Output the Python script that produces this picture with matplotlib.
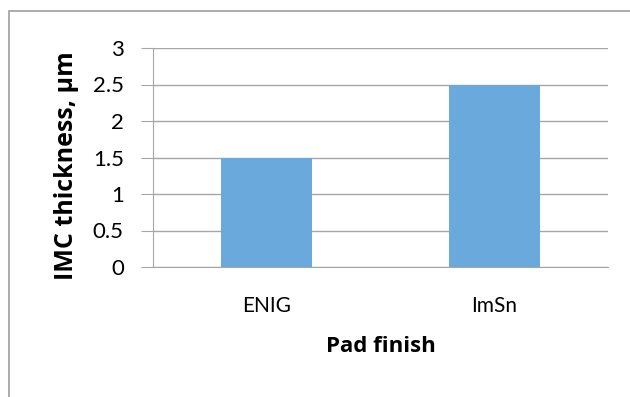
import matplotlib.pyplot as plt
import matplotlib.patches as mpatches

# Data
categories = ["ENIG", "ImSn"]
imc_thickness = [1.5, 2.5]
y_ticks = [0, 0.5, 1, 1.5, 2, 2.5, 3]
y_tick_labels = ["0", "0.5", "1", "1.5", "2", "2.5", "3"]

plt.rcParams['font.family'] = ['Lato', 'DejaVu Sans']

W, H = 630, 397
fig = plt.figure(figsize=(W / 100, H / 100), dpi=100)

# chart area border (cut off at right/bottom like the reference)
fig.patches.append(mpatches.Rectangle((9 / W, -0.1), 1.2, 1.1 - 11 / H, transform=fig.transFigure,
                                      fill=False, edgecolor="#a6a6a6", linewidth=1.3))

# plot area in pixel terms: x 153..608, y 48..267
ax = fig.add_axes([153 / W, 1 - 267 / H, (608 - 153) / W, (267 - 48) / H])

x = range(len(categories))
ax.bar(x, imc_thickness, width=0.4, color="#6aa9dc", zorder=3)

ax.set_xlim(-0.5, 1.5)
ax.set_ylim(0, 3)
ax.set_yticks(y_ticks)
ax.set_yticklabels(y_tick_labels, fontsize=16)
ax.set_xticks(list(x))
ax.set_xticklabels(categories, fontsize=15)

ax.yaxis.grid(True, color="#a6a6a6", linewidth=1.0, zorder=0)
for side in ["top", "right"]:
    ax.spines[side].set_visible(False)
ax.spines["left"].set_color("#a6a6a6")
ax.spines["bottom"].set_color("#a6a6a6")
ax.tick_params(axis="y", length=9, color="#a6a6a6", pad=12)
ax.tick_params(axis="x", length=0, pad=21)

label_font = dict(family=["Open Sans", "DejaVu Sans"], fontweight="bold")
ax.set_xlabel("Pad finish", fontsize=16, labelpad=14, **label_font)
ax.set_ylabel("IMC thickness, µm", fontsize=18, **label_font)
ax.yaxis.set_label_coords((79 - 153) / 455, (267 - 166) / 219)

fig.savefig("out.png", dpi=100)
